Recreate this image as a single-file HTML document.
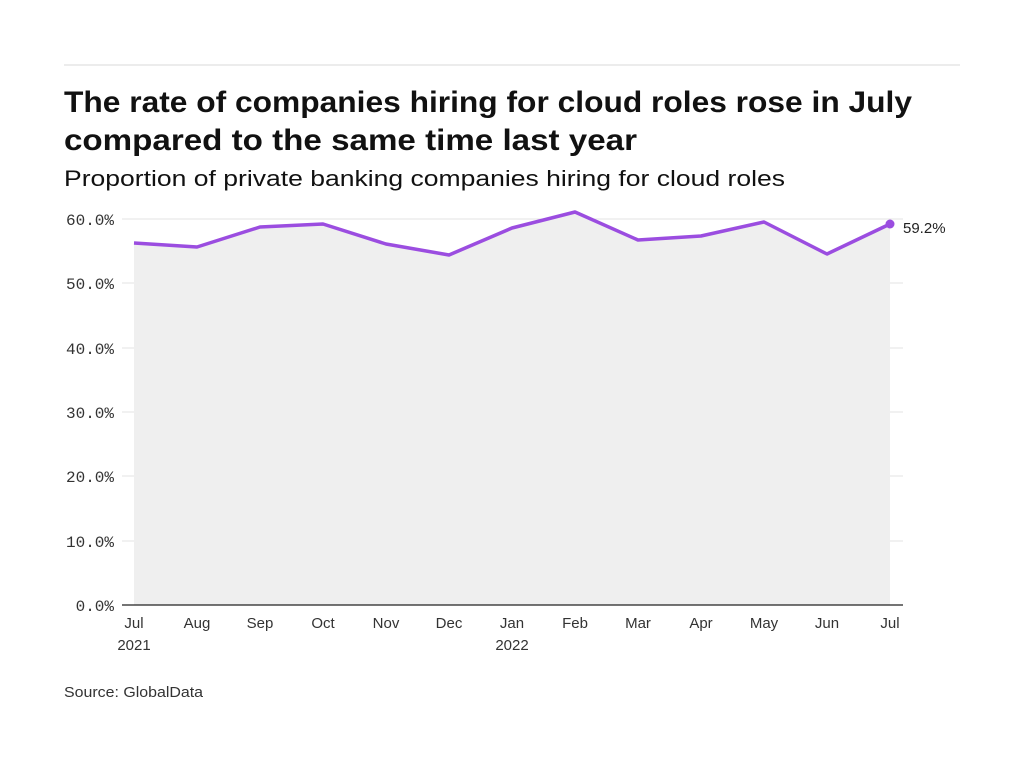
<!DOCTYPE html>
<html><head><meta charset="utf-8"><style>
body{margin:0;background:#fff;width:1024px;height:768px;overflow:hidden;font-family:"Liberation Sans",sans-serif}
</style></head><body>
<svg width="1024" height="768" xmlns="http://www.w3.org/2000/svg">
<line x1="64" y1="65" x2="960" y2="65" stroke="#d9d9d9" stroke-width="1"/>
<text x="64" y="112" font-size="30" font-weight="bold" fill="#111" textLength="848" lengthAdjust="spacingAndGlyphs">The rate of companies hiring for cloud roles rose in July</text>
<text x="64" y="150" font-size="30" font-weight="bold" fill="#111" textLength="573" lengthAdjust="spacingAndGlyphs">compared to the same time last year</text>
<text x="64" y="186" font-size="22" fill="#111" textLength="721" lengthAdjust="spacingAndGlyphs">Proportion of private banking companies hiring for cloud roles</text>
<g stroke="#e3e3e3" stroke-width="1">
<line x1="122" y1="219" x2="903" y2="219"/><line x1="122" y1="283" x2="903" y2="283"/><line x1="122" y1="348" x2="903" y2="348"/><line x1="122" y1="412" x2="903" y2="412"/><line x1="122" y1="476" x2="903" y2="476"/><line x1="122" y1="541" x2="903" y2="541"/>
</g>
<polygon fill="#efefef" points="134,605 134,243 197,247 260,227 323,224 386,244 449,255 512,228 575,212 638,240 701,236 764,222 827,254 890,224 890,605"/>
<polyline fill="none" stroke="#9b4de0" stroke-width="3.5" stroke-linejoin="round" points="134,243 197,247 260,227 323,224 386,244 449,255 512,228 575,212 638,240 701,236 764,222 827,254 890,224"/>
<circle cx="890" cy="224" r="4.5" fill="#9b4de0"/>
<line x1="122" y1="605" x2="903" y2="605" stroke="#222" stroke-width="1.2"/>
<g font-family="Liberation Mono,monospace" font-size="16" fill="#333" text-anchor="end">
<text x="114" y="225">60.0%</text><text x="114" y="289">50.0%</text><text x="114" y="354">40.0%</text><text x="114" y="418">30.0%</text><text x="114" y="482">20.0%</text><text x="114" y="547">10.0%</text><text x="114" y="611">0.0%</text>
</g>
<text x="903" y="233" font-size="15" fill="#222">59.2%</text>
<g font-size="15" fill="#333" text-anchor="middle">
<text x="134" y="628">Jul</text><text x="134" y="650">2021</text><text x="197" y="628">Aug</text><text x="260" y="628">Sep</text><text x="323" y="628">Oct</text><text x="386" y="628">Nov</text><text x="449" y="628">Dec</text><text x="512" y="628">Jan</text><text x="512" y="650">2022</text><text x="575" y="628">Feb</text><text x="638" y="628">Mar</text><text x="701" y="628">Apr</text><text x="764" y="628">May</text><text x="827" y="628">Jun</text><text x="890" y="628">Jul</text>
</g>
<text x="64" y="697" font-size="15" fill="#333" textLength="139" lengthAdjust="spacingAndGlyphs">Source: GlobalData</text>
</svg>
</body></html>
